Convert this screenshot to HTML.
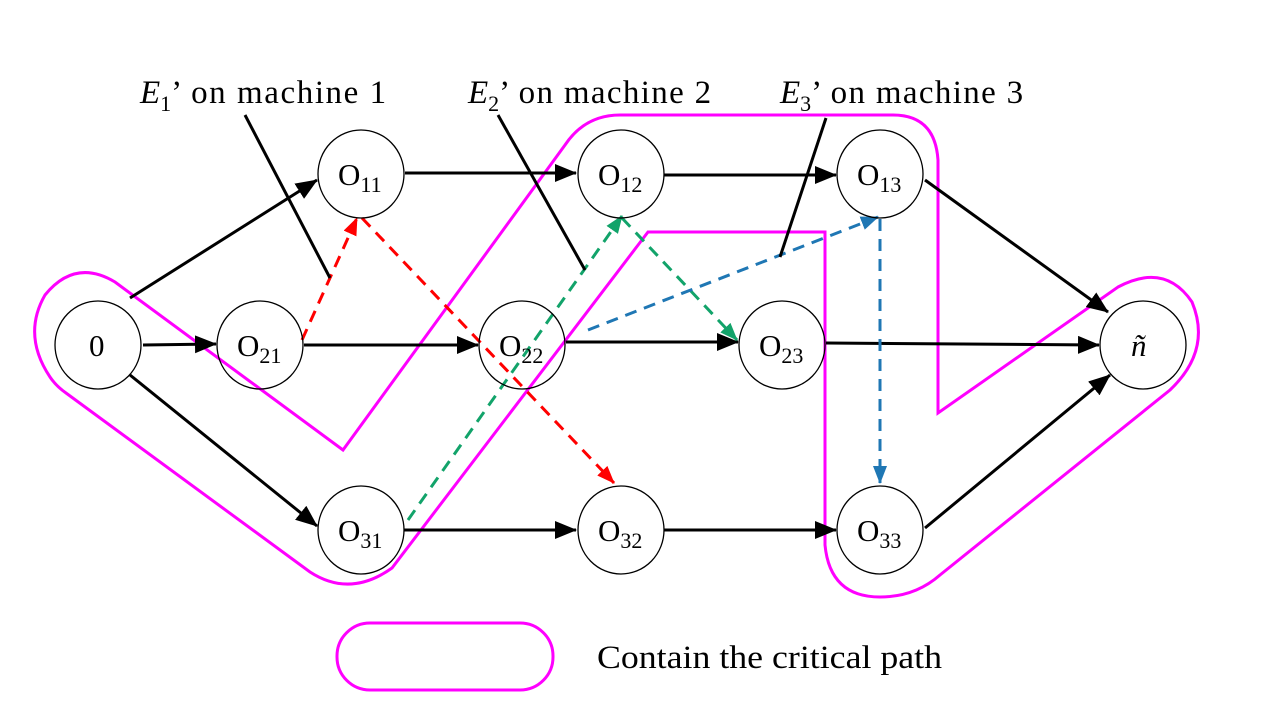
<!DOCTYPE html>
<html><head><meta charset="utf-8"><style>
body{margin:0;background:#fff}
svg text{font-family:"Liberation Serif",serif;}
</style></head><body>
<svg width="1280" height="720" viewBox="0 0 1280 720" xmlns="http://www.w3.org/2000/svg">
<defs>
<marker id="ar" markerWidth="18" markerHeight="14" refX="17" refY="7" orient="auto" markerUnits="userSpaceOnUse"><path d="M0,0 L18,7 L0,14z" fill="#f00"/></marker>
<marker id="ag" markerWidth="18" markerHeight="14" refX="17" refY="7" orient="auto" markerUnits="userSpaceOnUse"><path d="M0,0 L18,7 L0,14z" fill="#12a36a"/></marker>
<marker id="ab" markerWidth="18" markerHeight="14" refX="17" refY="7" orient="auto" markerUnits="userSpaceOnUse"><path d="M0,0 L18,7 L0,14z" fill="#1f77b4"/></marker>
<marker id="abk" markerWidth="22" markerHeight="18" refX="21" refY="9" orient="auto" markerUnits="userSpaceOnUse"><path d="M0,0 L22,9 L0,18z" fill="#000"/></marker>
</defs>
<path d="M343 450 L115 282 Q75 258 45 295 Q22 335 50 377 Q56 386 66 393 L310 572 Q350 598 392 568 L648 232 L825 232 L825 545 Q830 597 880 597 Q915 597 940 575 L1170 390 Q1212 350 1192 302 Q1165 262 1118 287 L938 413 L938 160 Q935 115 893 115 L620 115 Q585 115 565 145 Z" fill="none" stroke="#f0f" stroke-width="3" stroke-linejoin="miter"/>
<g stroke="#000" stroke-width="3" fill="none" marker-end="url(#abk)">
<line x1="130" y1="298" x2="317" y2="180"/>
<line x1="143" y1="345" x2="216" y2="344"/>
<line x1="130" y1="375" x2="317" y2="526"/>
<line x1="405" y1="173" x2="576" y2="173"/>
<line x1="304" y1="345" x2="478" y2="345"/>
<line x1="404" y1="530" x2="576" y2="530"/>
<line x1="664" y1="175" x2="836" y2="175"/>
<line x1="566" y1="342" x2="738" y2="342"/>
<line x1="664" y1="530" x2="836" y2="530"/>
<line x1="925" y1="180" x2="1108" y2="312"/>
<line x1="826" y1="343" x2="1099" y2="345"/>
<line x1="925" y1="528" x2="1110" y2="375"/>
</g>
<g stroke-width="3" fill="none" stroke-dasharray="12,8">
<line x1="302" y1="340" x2="357" y2="218" stroke="#f00" marker-end="url(#ar)"/>
<line x1="362" y1="218" x2="614" y2="483" stroke="#f00" marker-end="url(#ar)"/>
<line x1="408" y1="520" x2="622" y2="216" stroke="#12a36a" marker-end="url(#ag)"/>
<line x1="622" y1="218" x2="737" y2="340" stroke="#12a36a" marker-end="url(#ag)"/>
<line x1="588" y1="330" x2="878" y2="217" stroke="#1f77b4" marker-end="url(#ab)"/>
<line x1="880" y1="219" x2="880" y2="483" stroke="#1f77b4" marker-end="url(#ab)"/>
</g>
<g stroke="#000" stroke-width="3">
<line x1="245" y1="115" x2="330" y2="278"/>
<line x1="498" y1="115" x2="585" y2="270"/>
<line x1="826" y1="118" x2="780" y2="257"/>
</g>
<g fill="none" stroke="#000" stroke-width="1.3">
<ellipse cx="98" cy="345" rx="43" ry="44"/>
<ellipse cx="260" cy="345" rx="43" ry="44"/>
<ellipse cx="361" cy="174" rx="43" ry="44"/>
<ellipse cx="361" cy="530" rx="43" ry="44"/>
<ellipse cx="522" cy="345" rx="43" ry="44"/>
<ellipse cx="621" cy="174" rx="43" ry="44"/>
<ellipse cx="621" cy="530" rx="43" ry="44"/>
<ellipse cx="782" cy="345" rx="43" ry="44"/>
<ellipse cx="880" cy="174" rx="43" ry="44"/>
<ellipse cx="880" cy="530" rx="43" ry="44"/>
<ellipse cx="1143" cy="345" rx="43" ry="44"/>
</g>
<g font-size="31" fill="#000">
<text x="89" y="356">0</text>
<text x="237" y="356">O<tspan font-size="22" dy="7">21</tspan></text>
<text x="338" y="185">O<tspan font-size="22" dy="7">11</tspan></text>
<text x="338" y="541">O<tspan font-size="22" dy="7">31</tspan></text>
<text x="499" y="356">O<tspan font-size="22" dy="7">22</tspan></text>
<text x="598" y="185">O<tspan font-size="22" dy="7">12</tspan></text>
<text x="598" y="541">O<tspan font-size="22" dy="7">32</tspan></text>
<text x="759" y="356">O<tspan font-size="22" dy="7">23</tspan></text>
<text x="857" y="185">O<tspan font-size="22" dy="7">13</tspan></text>
<text x="857" y="541">O<tspan font-size="22" dy="7">33</tspan></text>
<text x="1131" y="356" font-style="italic">ñ</text>
</g>
<g font-size="33" fill="#000">
<text x="140" y="103"><tspan font-style="italic">E</tspan><tspan font-size="22" dy="8">1</tspan><tspan dy="-8" textLength="215">’ on machine 1</tspan></text>
<text x="468" y="103"><tspan font-style="italic">E</tspan><tspan font-size="22" dy="8">2</tspan><tspan dy="-8" textLength="212">’ on machine 2</tspan></text>
<text x="780" y="103"><tspan font-style="italic">E</tspan><tspan font-size="22" dy="8">3</tspan><tspan dy="-8" textLength="212">’ on machine 3</tspan></text>
<text x="597" y="668" textLength="345" lengthAdjust="spacingAndGlyphs">Contain the critical path</text>
</g>
<rect x="337" y="623" width="216" height="67" rx="33" ry="33" fill="none" stroke="#f0f" stroke-width="3"/>
</svg>
</body></html>
